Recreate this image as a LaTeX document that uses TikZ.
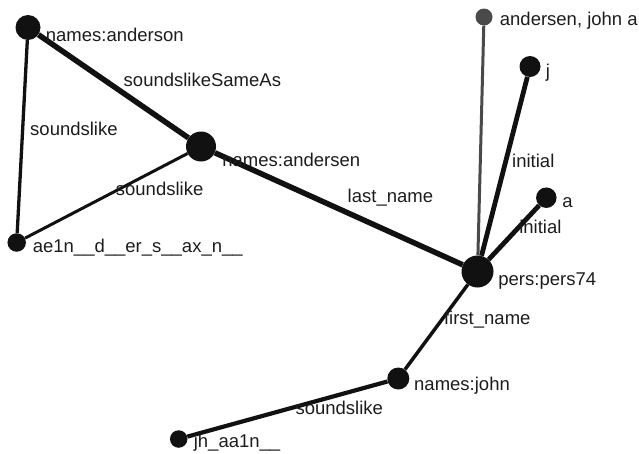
\documentclass[tikz,border=0pt]{standalone}
\usepackage{fontspec}
\setmainfont{Liberation Sans}
\usetikzlibrary{positioning}
\definecolor{inkdark}{HTML}{111111}
\definecolor{inkgray}{HTML}{4A4A4A}
\definecolor{textdark}{HTML}{1C1C1C}

\begin{document}
\begin{tikzpicture}[x=1pt,y=-1pt,
    vertex/.style={circle,fill=inkdark,inner sep=0pt,minimum size=#1},
    tag/.style={inner sep=0pt,anchor=base west,text=textdark,font=\fontsize{18.5}{22}\selectfont},
    link/.style={draw=inkdark,line width=#1}]
   \useasboundingbox (0,0) rectangle (639,453);
   % vertices
   \node[vertex=25pt] (anderson) at (28,27.5) {};
   \node[vertex=30pt] (andersen) at (201,146.5) {};
   \node[vertex=18.5pt] (ae1n) at (16.7,242.5) {};
   \node[vertex=32pt] (pers74) at (477.5,271.5) {};
   \node[vertex=17pt,fill=inkgray] (fullname) at (484,17) {};
   \node[vertex=21pt] (j) at (530,66.5) {};
   \node[vertex=20.5pt] (a) at (546.3,197.7) {};
   \node[vertex=22pt] (john) at (398.3,378.5) {};
   \node[vertex=17.5pt] (jhaa1n) at (178.7,439) {};
   % relations
   \path (anderson) edge[link=5.5pt] node[tag,pos=.55,yshift=5pt] {soundslikeSameAs} (andersen)
                    edge[link=3.3pt] node[tag,pos=.47,xshift=6pt,yshift=-5pt] {soundslike} (ae1n)
         (ae1n)     edge[link=3pt] node[tag,pos=.55,yshift=-4pt] {soundslike} (andersen)
         (andersen) edge[link=5.5pt] node[tag,pos=.525,yshift=9pt] {last\_name} (pers74)
         (pers74)   edge[draw=inkgray,line width=3pt] (fullname)
                    edge[link=4.8pt] node[tag,pos=.53,xshift=4pt,yshift=-7pt] {initial} (j)
                    edge[link=4.8pt] node[tag,pos=.58,xshift=-1pt,yshift=-5pt] {initial} (a)
                    edge[link=3.5pt] node[tag,pos=.39,xshift=-1pt,yshift=-7pt] {first\_name} (john)
         (john)     edge[link=4.2pt] node[tag,pos=.47,yshift=-7pt] {soundslike} (jhaa1n);
   % vertex names
   \node[right=5pt of anderson,tag,yshift=-13.5pt] (andersonname) {names:anderson};
   \node[right=6pt of andersen,tag,yshift=-20pt] (andersenname) {names:andersen};
   \node[right=6.5pt of ae1n,tag,yshift=-10pt] (ae1nname) {ae1n\_\_d\_\_er\_s\_\_ax\_n\_\_};
   \node[right=7pt of fullname,tag,yshift=-8pt] (fullnamename) {andersen, john a};
   \node[right=5pt of j,tag,yshift=-10.5pt] (jname) {j};
   \node[right=5.4pt of a,tag,yshift=-9.6pt] (aname) {a};
   \node[right=4.5pt of pers74,tag,yshift=-13.5pt] (pers74name) {pers:pers74};
   \node[right=4.5pt of john,tag,yshift=-11.5pt] (johnname) {names:john};
   \node[right=6pt of jhaa1n,tag,yshift=-8.7pt] (jhaa1nname) {jh\_aa1n\_\_};
\end{tikzpicture}
\end{document}
